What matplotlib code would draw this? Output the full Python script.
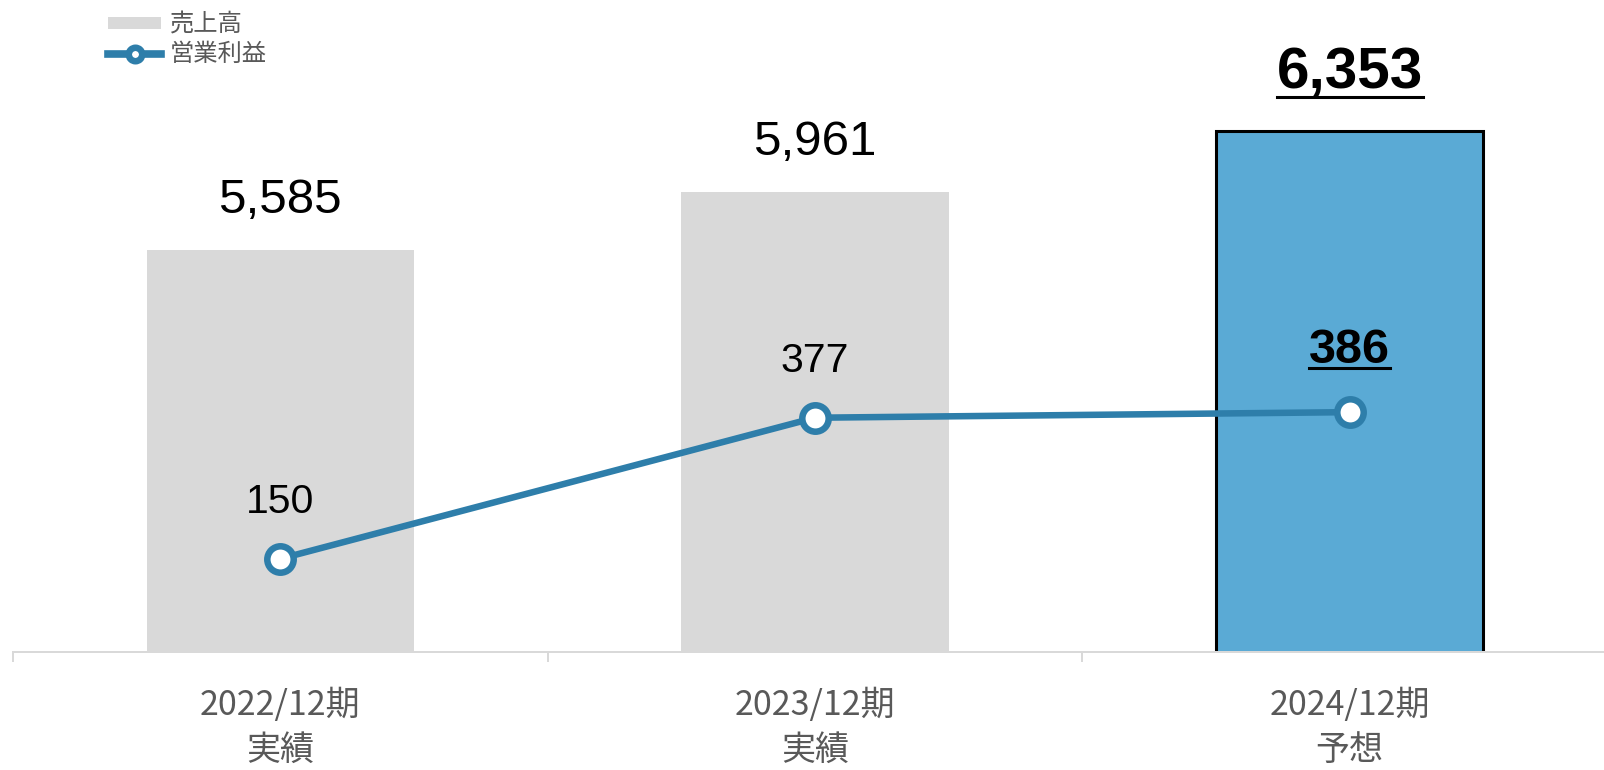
import matplotlib.pyplot as plt
from matplotlib.lines import Line2D
from matplotlib.patches import Patch

plt.rcParams['font.family'] = ['Noto Sans CJK JP', 'DejaVu Sans']

# data
periods = ['2022/12期', '2023/12期', '2024/12期']
kinds = ['実績', '実績', '予想']
sales = [5585, 5961, 6353]
profit = [150, 377, 386]
legend_labels = ['売上高', '営業利益']

gray = '#D9D9D9'
blue = '#5AAAD5'
line_c = '#2E7EAA'
text_c = '#595959'
num_font = ['Liberation Sans', 'DejaVu Sans']

W, H = 1604, 770
fig = plt.figure(figsize=(W / 100, H / 100), dpi=100)
ax = fig.add_axes([13 / W, 118 / H, 1604 / W, 621.4 / H])

x = list(range(len(sales)))
bar_colors = [gray, gray, blue]
edge_colors = ['none', 'none', 'black']
ax.bar(x, sales, width=0.5, color=bar_colors, edgecolor=edge_colors, linewidth=2.2, zorder=2)
ax.set_ylim(3000, 7000)
ax.set_xlim(-0.5, 2.5)

ax2 = ax.twinx()
ax2.plot(x, profit, color=line_c, lw=4.7, marker='o', ms=19, mfc='white',
         mec=line_c, mew=4.7, zorder=3)
ax2.set_ylim(0, 1000)

for a in (ax, ax2):
    for s in ['top', 'left', 'right']:
        a.spines[s].set_visible(False)
    a.set_yticks([])
ax2.spines['bottom'].set_visible(False)
ax.spines['bottom'].set_color(gray)
ax.spines['bottom'].set_linewidth(1.44)
ax.set_xticks([])
ax.set_xticks([-0.5, 0.5, 1.5, 2.5], minor=True)
ax.tick_params(axis='x', which='minor', length=7.2, width=1.44, color=gray, labelbottom=False)

# value labels
underlined = []
for i, v in enumerate(sales):
    bold = i == 2
    off = 43 if bold else 37
    fs = 42 if bold else 35.5
    t = ax.annotate(f'{v:,}', (i, v), xytext=(0, off), textcoords='offset pixels',
                    ha='center', va='baseline', fontsize=fs,
                    fontweight='bold' if bold else 'normal', family=num_font)
    if bold:
        underlined.append((t, ax, i, v, off, 9))

for i, v in enumerate(profit):
    bold = i == 2
    off = 49 if bold else 46
    fs = 35 if bold else 29.5
    t = ax2.annotate(f'{v:,}', (i, v), xytext=(0, off), textcoords='offset pixels',
                     ha='center', va='baseline', fontsize=fs,
                     fontweight='bold' if bold else 'normal', family=num_font, zorder=4)
    if bold:
        underlined.append((t, ax2, i, v, off, 5))

# category labels
for i in x:
    ax.annotate(periods[i], xy=(i, 0), xycoords=('data', 'axes fraction'), xytext=(0, -63),
                textcoords='offset pixels', ha='center', va='baseline', fontsize=24.5, color=text_c,
                annotation_clip=False)
    ax.annotate(kinds[i], xy=(i, 0), xycoords=('data', 'axes fraction'), xytext=(0, -108),
                textcoords='offset pixels', ha='center', va='baseline', fontsize=24.5, color=text_c,
                annotation_clip=False)

# legend
handles = [
    Patch(facecolor=gray, edgecolor='none'),
    Line2D([], [], color=line_c, lw=5.5, marker='o', ms=9.7, mfc='white', mec=line_c, mew=4.7),
]
fig.legend(handles, legend_labels, loc='upper left', bbox_to_anchor=(108 / W, 1 - 12 / H),
           frameon=False, fontsize=17.5, labelcolor=text_c, handlelength=2.2, handleheight=0.4,
           handletextpad=0.35, labelspacing=0.12, borderpad=0, borderaxespad=0)

# underlines for the forecast values
fig.canvas.draw()
inv = fig.transFigure.inverted()
for t, a, i, v, off, drop in underlined:
    bb = t.get_window_extent()
    base = a.transData.transform((i, v))[1] + off
    y = base - drop
    p0 = inv.transform((bb.x0, y))
    p1 = inv.transform((bb.x1, y))
    fig.add_artist(Line2D([p0[0], p1[0]], [p0[1], p1[1]], transform=fig.transFigure,
                          color='black', lw=2.2, zorder=5))

fig.savefig('out.png', dpi=100)
